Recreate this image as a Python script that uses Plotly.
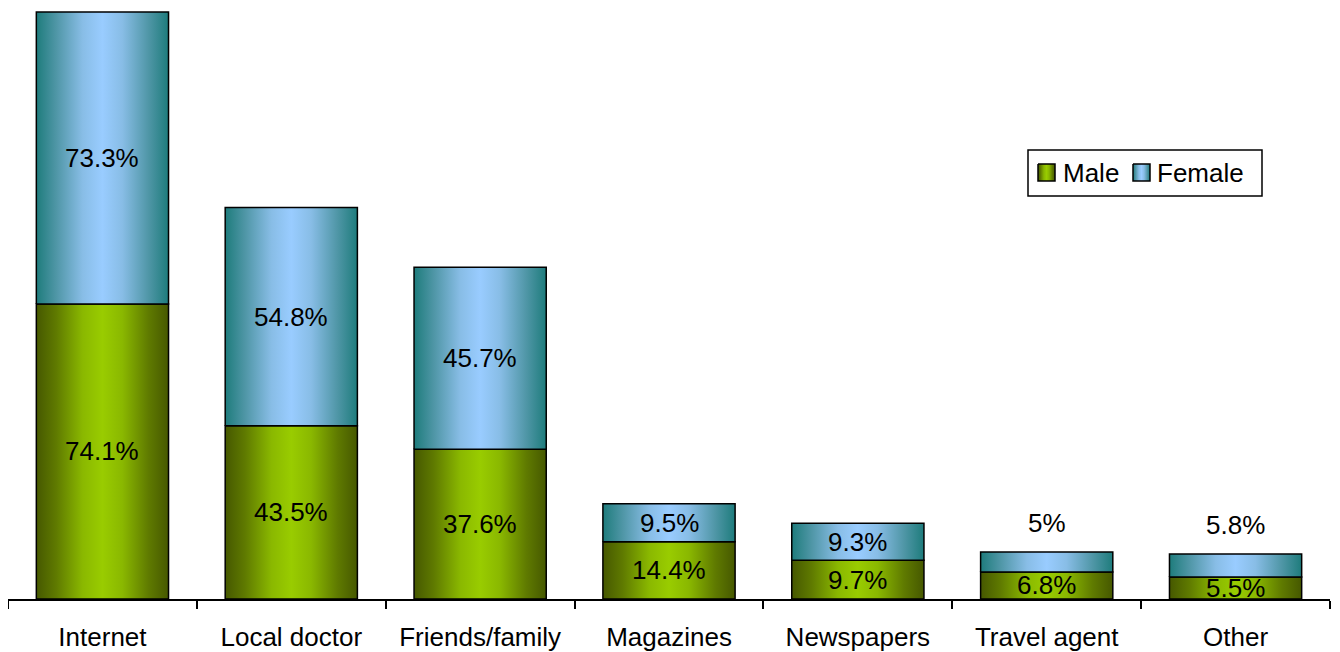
import plotly.graph_objects as go

categories = ["Internet", "Local doctor", "Friends/family", "Magazines",
              "Newspapers", "Travel agent", "Other"]
male = [74.1, 43.5, 37.6, 14.4, 9.7, 6.8, 5.5]
female = [73.3, 54.8, 45.7, 9.5, 9.3, 5.0, 5.8]
male_labels = ["74.1%", "43.5%", "37.6%", "14.4%", "9.7%", "6.8%", "5.5%"]
female_labels = ["73.3%", "54.8%", "45.7%", "9.5%", "9.3%", "5%", "5.8%"]
series_names = ["Male", "Female"]

BAR_W = 0.7
FONT = "Liberation Sans, Arial, sans-serif"
FS = 26

male_scale = [[0, "#465800"], [0.15, "#5f7a00"], [0.35, "#8ab800"],
              [0.5, "#99cc00"], [0.65, "#8ab800"], [0.85, "#5f7a00"], [1, "#465800"]]
female_scale = [[0, "#1e7c7c"], [0.15, "#4f96a6"], [0.35, "#88bde6"],
                [0.5, "#99ccff"], [0.65, "#88bde6"], [0.85, "#4f96a6"], [1, "#1e7c7c"]]

fig = go.Figure()


def add_box(x0, x1, y0, y1, scale, xa="x", ya="y"):
    fig.add_trace(go.Scatter(
        x=[x0, x1, x1, x0, x0], y=[y0, y0, y1, y1, y0],
        mode="lines", fill="toself",
        fillgradient=dict(type="horizontal", colorscale=scale, start=x0, stop=x1),
        line=dict(color="#000000", width=1.5),
        showlegend=False, hoverinfo="skip", xaxis=xa, yaxis=ya,
    ))


for i in range(len(categories)):
    add_box(i - BAR_W / 2, i + BAR_W / 2, 0, male[i], male_scale)
for i in range(len(categories)):
    add_box(i - BAR_W / 2, i + BAR_W / 2, male[i], male[i] + female[i], female_scale)

annotations = []
for i in range(len(categories)):
    annotations.append(dict(x=i, y=male[i] / 2, text=male_labels[i], showarrow=False,
                            font=dict(size=FS, color="#000000", family=FONT),
                            xref="x", yref="y"))
    top = male[i] + female[i]
    if female[i] >= 7:
        annotations.append(dict(x=i, y=male[i] + female[i] / 2, text=female_labels[i],
                                showarrow=False, xref="x", yref="y",
                                font=dict(size=FS, color="#000000", family=FONT)))
    else:
        annotations.append(dict(x=i, y=top, text=female_labels[i], showarrow=False,
                                xref="x", yref="y", yanchor="bottom", yshift=12,
                                font=dict(size=FS, color="#000000", family=FONT)))

# manual legend, drawn on an overlay axis in page pixel coordinates
shapes = [dict(type="rect", xref="x2", yref="y2", x0=1028, x1=1262, y0=150, y1=196,
               line=dict(color="#000000", width=1.5), fillcolor="#ffffff", layer="below")]
legend_items = [(1038, 1061, male_scale), (1133, 1155, female_scale)]
for (sx, tx, sc), nm in zip(legend_items, series_names):
    add_box(sx, sx + 17, 164, 181, sc, "x2", "y2")
    annotations.append(dict(x=tx, y=173, xref="x2", yref="y2", text=nm,
                            showarrow=False, xanchor="left", yanchor="middle",
                            font=dict(size=FS, color="#000000", family=FONT)))

fig.update_layout(
    width=1332, height=644,
    margin=dict(l=0, r=10, t=0, b=53),
    paper_bgcolor="#ffffff", plot_bgcolor="#ffffff",
    font=dict(family=FONT, size=FS, color="#000000"),
    showlegend=False,
    annotations=annotations,
    shapes=shapes,
    xaxis=dict(range=[-0.5, len(categories) - 0.5],
               tickvals=list(range(len(categories))), ticktext=categories,
               ticks="", showgrid=False, zeroline=False,
               showline=True, linecolor="#000000", linewidth=1.5,
               ticklabelstandoff=14,
               tickfont=dict(size=FS, family=FONT, color="#000000"),
               minor=dict(tickvals=[k - 0.5 for k in range(len(categories) + 1)],
                          ticks="outside", ticklen=8, tickcolor="#000000",
                          tickwidth=1.5, showgrid=False),
               fixedrange=True),
    yaxis=dict(range=[0, 148.4], visible=False, showgrid=False, zeroline=False,
               fixedrange=True),
    xaxis2=dict(overlaying="x", anchor="y2", range=[8, 1330], visible=False,
                fixedrange=True),
    yaxis2=dict(overlaying="y", anchor="x2", range=[599, 8], visible=False,
                fixedrange=True),
)

fig.write_html("out.html")
